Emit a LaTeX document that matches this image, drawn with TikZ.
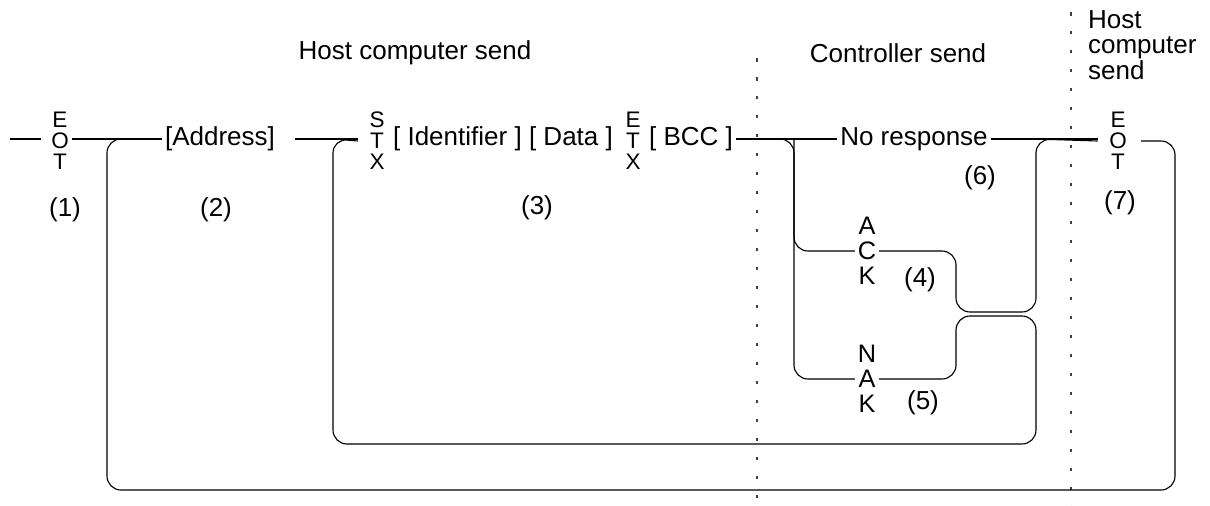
\documentclass[tikz,border=0pt]{standalone}
\usepackage{fontspec}
\setmainfont{Liberation Sans}
\usepackage{tikz}
\usetikzlibrary{positioning}
\tikzstyle{txt} = [inner sep=2pt, font=\fontsize{18.5}{22}\selectfont]
\tikzstyle{stack} = [inner sep=2pt, align=center, font=\fontsize{16}{15}\selectfont]
\tikzstyle{bigstack} = [inner sep=2pt, align=center, font=\fontsize{18}{17.6}\selectfont]
\tikzstyle{wire} = [line width=0.8pt, rounded corners=0.35cm]
\tikzstyle{divider} = [line width=0.8pt, draw=black!75, dash pattern=on 2.5pt off 11pt]

\begin{document}
\begin{tikzpicture}[x=0.025cm, y=-0.025cm]
				\useasboundingbox (0,0) rectangle (1210,506);
				
				% Headings
				\node (hosthead) [txt] at (415,53) {Host computer send};
				\node (ctrlhead) [txt] at (898,53) {Controller send};
				\node (hostheadB) [txt, align=left, anchor=west, font=\fontsize{18.5}{18.3}\selectfont] at (1085,45) {Host\\computer\\send};
				
				% Dividers between the senders
				\coordinate (divAtop) at (757,58);
				\coordinate (divAbot) at (757,506);
				\coordinate (divBtop) at (1071,12);
				\coordinate (divBbot) at (1071,506);
				\draw [divider] (divAtop) -- (divAbot);
				\draw [divider] (divBtop) -- (divBbot);
				
				% Nodes of the main row
				\coordinate (entry) at (10,139);
				\node (eotA) [stack] at (60,141) {E\\O\\T};
				\node (addr) [txt] at (220,139) {[Address]};
				\node (stx) [stack] at (377,141) {S\\T\\X};
				\node (ident) [txt] at (503,139) {[ Identifier ] [ Data ]};
				\node (etx) [stack] at (633,141) {E\\T\\X};
				\node (bcc) [txt] at (691,139) {[ BCC ]};
				\node (nores) [txt] at (914,139) {No response};
				\node (eotB) [stack] at (1118,141) {E\\O\\T};
				
				% Nodes of the replies
				\node (ack) [bigstack] at (867,251) {A\\C\\K};
				\node (nak) [bigstack] at (867,379) {N\\A\\K};
				
				% Bends of the connectors
				\coordinate (fork) at (794,139);
				\coordinate (joinA) at (956,312);
				\coordinate (joinB) at (956,316);
				\coordinate (rejoin) at (1036,139);
				\coordinate (innerR) at (1036,444);
				\coordinate (innerL) at (333,139);
				\coordinate (outerR) at (1175,490);
				\coordinate (outerL) at (107,139);
				
				% Main row
				\draw [wire] (entry) -- ([xshift=-5pt]entry -| eotA.west);
				\draw [wire] (eotA.east |- entry) -- (addr.west);
				\draw [wire] ([xshift=12pt]addr.east) -- ([xshift=-6pt]stx.west |- addr);
				\draw [wire] (bcc.east) -- (nores.west);
				\draw [wire] (nores.east) -- ([xshift=-6pt]eotB.west |- nores);
				
				% Branches to the replies
				\draw [wire] (bcc.east) -| (nak.west -| fork) -- (nak.west);
				\draw [wire] (fork) |- (ack.west);
				
				% ACK goes on, NAK sends again
				\draw [wire] (ack.east) -| (joinA) -| (rejoin) -- ([xshift=-6pt]eotB.west);
				\draw [wire] (nak.east) -| (joinB) -| (innerR) -| (innerL) -- ([xshift=-6pt]stx.west);
				
				% Outer loop back to the address
				\draw [wire] ([xshift=8pt]eotB.east) -| (outerR) -| (outerL) -- (addr.west);
				
				% Labels
				\node (labA) [txt] at (65,210) {(1)};
				\node (labB) [txt] at (216,210) {(2)};
				\node (labC) [txt] at (537,208) {(3)};
				\node (labD) [txt] at (920,280) {(4)};
				\node (labE) [txt] at (923,403) {(5)};
				\node (labF) [txt] at (980,178) {(6)};
				\node (labG) [txt] at (1120,203) {(7)};
				
\end{tikzpicture}
\end{document}
